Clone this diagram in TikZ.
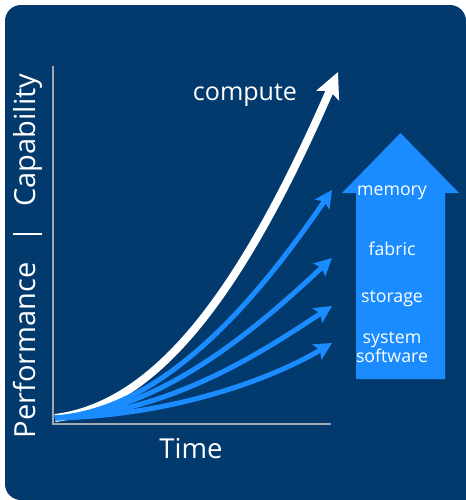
\documentclass[tikz,border=0pt]{standalone}
\usepackage{fontspec}
\setmainfont{Open Sans}
\usetikzlibrary{arrows.meta}
\definecolor{bgblue}{HTML}{023A6E}
\definecolor{lblue}{HTML}{1A8CFF}
\definecolor{axisgray}{HTML}{A3A9B0}
\begin{document}
\begin{tikzpicture}[x=0.75pt,y=-0.75pt,
  lbl/.style={text=white, inner sep=0pt, anchor=base},
  sidelbl/.style={lbl, font=\fontsize{13.3}{11.3}\selectfont},
  axisline/.style={draw=axisgray, line width=1.2pt},
  bluearrow/.style={draw=lblue, line width=3.75pt, -{Stealth[length=13pt,width=13pt,inset=2.5pt]}},
  whitearrow/.style={draw=white, line width=6pt, -{Stealth[length=19pt,width=18pt,inset=3.5pt]}}]
\useasboundingbox (0,0) rectangle (466,500);
\fill[white] (0,0) rectangle (466,500);
\fill[bgblue, rounded corners=12] (5,5) rectangle (466,500);
\fill[bgblue] (440,474) rectangle (466,500);
% axes
\coordinate (ytop) at (53,66);
\coordinate (orig) at (53,424);
\coordinate (xend) at (331,424);
\draw[axisline] (ytop) -- (orig) -- (xend);
% big arrow
\fill[lblue] (356,379) -- (356,193) -- (342,193) -- (400.5,133) -- (459,193) -- (445,193) -- (445,379) -- cycle;
% curves
\coordinate (o) at (55,418);
\coordinate (tc) at (338,72);
\coordinate (tm) at (332,190);
\coordinate (tf) at (332,258);
\coordinate (ts) at (332,306);
\coordinate (tw) at (332,343);
\draw[whitearrow] (o) .. controls (160,405) and (245,285) .. (tc);
\draw[bluearrow] (o) .. controls (160,410) and (250,310) .. (tm);
\draw[bluearrow] (o) .. controls (160,412) and (255,330) .. (tf);
\draw[bluearrow] (o) .. controls (170,414) and (265,350) .. (ts);
\draw[bluearrow] (o) .. controls (170,416) and (270,380) .. (tw);
% labels
\node[lbl, font=\fontsize{18.8}{22}\selectfont] (compute) at (245,100.5) {compute};
\node[lbl, font=\fontsize{20.6}{24}\selectfont] (time) at (191,458) {Time};
\node[lbl, rotate=90, font=\fontsize{21.75}{26}\selectfont] (ylab) at (36,256) {Performance\hspace{15pt}|\hspace{15pt}Capability};
\node[sidelbl] (memory) at (392,195) {memory};
\node[sidelbl] (fabric) at (392,255) {fabric};
\node[sidelbl] (storage) at (392,302.5) {storage};
\node[sidelbl] (system) at (392,343.5) {system};
\node[sidelbl] (software) at (392,362) {software};
\end{tikzpicture}
\end{document}
